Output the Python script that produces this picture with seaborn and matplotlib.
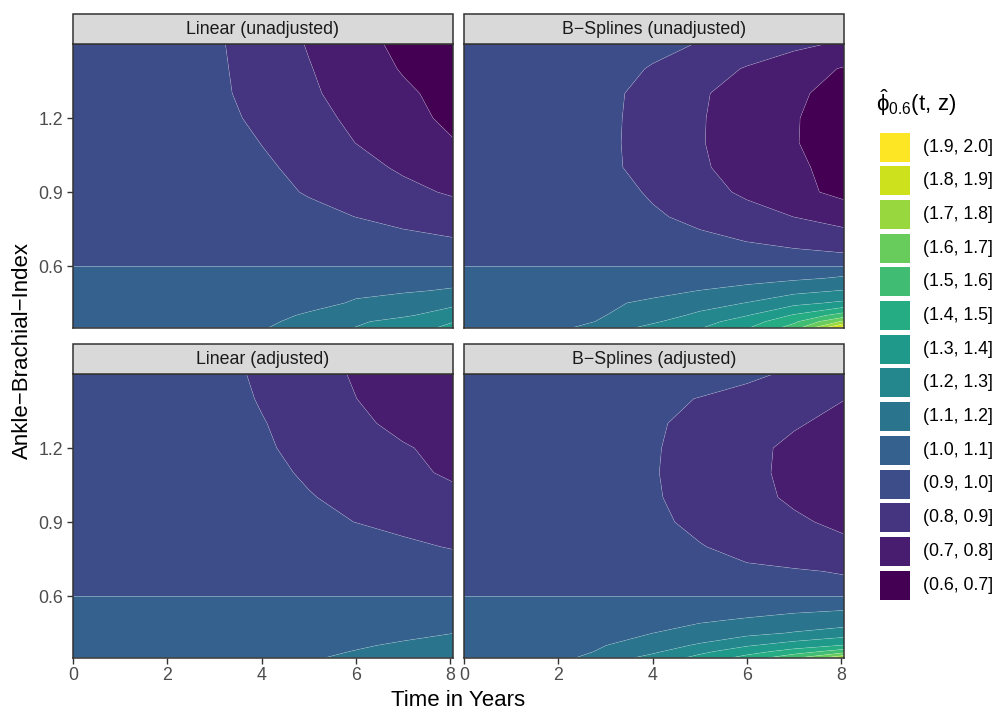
import numpy as np
import pandas as pd
import matplotlib
matplotlib.use("Agg")
import matplotlib.pyplot as plt
from matplotlib.patches import Rectangle
import seaborn as sns

# Follow-up time (years) and ankle-brachial index grid
t_years = [0, 1, 2, 3, 4, 5, 6, 7, 8.06]
abi_low = [0.35, 0.375, 0.40, 0.45, 0.50, 0.55, 0.60]
abi_high = [0.6, 0.7, 0.8, 0.9, 1.0, 1.1, 1.2, 1.3, 1.4, 1.5]

panel_titles = ["Linear (unadjusted)", "B\u2212Splines (unadjusted)",
                "Linear (adjusted)", "B\u2212Splines (adjusted)"]

# Estimated phi_0.6(t, z); rows follow the ABI grid, columns follow t_years
phi_lin_unadj_low = [
    [1.04, 1.04, 1.04, 1.04, 1.092, 1.147, 1.203, 1.261, 1.319],
    [1.04, 1.04, 1.04, 1.04, 1.079, 1.131, 1.183, 1.239, 1.297],
    [1.04, 1.04, 1.04, 1.04, 1.074, 1.110, 1.147, 1.184, 1.254],
    [1.04, 1.04, 1.04, 1.04, 1.042, 1.075, 1.108, 1.142, 1.175],
    [1.04, 1.04, 1.04, 1.04, 1.04, 1.06, 1.085, 1.09, 1.109],
    [1.04, 1.04, 1.04, 1.04, 1.04, 1.04, 1.05, 1.06, 1.07],
    [1.04, 1.04, 1.04, 1.04, 1.04, 1.04, 1.04, 1.045, 1.05],
]
phi_lin_unadj_high = [
    [0.96, 0.96, 0.96, 0.96, 0.96, 0.96, 0.96, 0.95, 0.94],
    [0.96, 0.96, 0.96, 0.96, 0.96, 0.96, 0.95, 0.927, 0.910],
    [0.96, 0.96, 0.96, 0.96, 0.950, 0.925, 0.899, 0.873, 0.847],
    [0.96, 0.96, 0.96, 0.96, 0.928, 0.893, 0.859, 0.824, 0.789],
    [0.96, 0.96, 0.96, 0.959, 0.916, 0.872, 0.829, 0.787, 0.749],
    [0.96, 0.96, 0.96, 0.948, 0.898, 0.848, 0.799, 0.752, 0.705],
    [0.96, 0.96, 0.96, 0.929, 0.880, 0.830, 0.781, 0.730, 0.680],
    [0.96, 0.96, 0.96, 0.920, 0.867, 0.814, 0.764, 0.716, 0.668],
    [0.96, 0.96, 0.96, 0.917, 0.861, 0.805, 0.749, 0.693, 0.637],
    [0.96, 0.96, 0.96, 0.914, 0.854, 0.794, 0.735, 0.676, 0.617],
]

phi_bs_unadj_low = [
    [1.04, 1.04, 1.077, 1.154, 1.227, 1.293, 1.39, 1.544, 1.95],
    [1.04, 1.04, 1.04, 1.117, 1.186, 1.26, 1.349, 1.479, 1.72],
    [1.04, 1.04, 1.04, 1.099, 1.157, 1.219, 1.296, 1.411, 1.55],
    [1.04, 1.04, 1.04, 1.082, 1.122, 1.162, 1.203, 1.272, 1.32],
    [1.04, 1.04, 1.04, 1.04, 1.067, 1.102, 1.137, 1.172, 1.205],
    [1.04, 1.04, 1.04, 1.04, 1.04, 1.04, 1.062, 1.086, 1.11],
    [1.04, 1.04, 1.04, 1.04, 1.04, 1.04, 1.04, 1.045, 1.05],
]
phi_bs_unadj_high = [
    [0.96, 0.96, 0.96, 0.96, 0.96, 0.96, 0.96, 0.96, 0.955],
    [0.96, 0.96, 0.96, 0.96, 0.946, 0.923, 0.899, 0.876, 0.852],
    [0.96, 0.96, 0.96, 0.951, 0.913, 0.875, 0.837, 0.799, 0.759],
    [0.96, 0.96, 0.96, 0.940, 0.888, 0.836, 0.783, 0.728, 0.673],
    [0.96, 0.96, 0.96, 0.920, 0.866, 0.812, 0.763, 0.716, 0.668],
    [0.96, 0.96, 0.96, 0.919, 0.862, 0.806, 0.755, 0.705, 0.656],
    [0.96, 0.96, 0.96, 0.920, 0.864, 0.807, 0.756, 0.706, 0.657],
    [0.96, 0.96, 0.96, 0.923, 0.867, 0.811, 0.762, 0.715, 0.668],
    [0.96, 0.96, 0.96, 0.941, 0.892, 0.843, 0.793, 0.743, 0.693],
    [0.96, 0.96, 0.96, 0.96, 0.931, 0.895, 0.859, 0.823, 0.786],
]

phi_lin_adj_low = [
    [1.04, 1.04, 1.04, 1.046, 1.07, 1.092, 1.115, 1.137, 1.16],
    [1.04, 1.04, 1.04, 1.04, 1.061, 1.082, 1.103, 1.124, 1.145],
    [1.04, 1.04, 1.04, 1.04, 1.052, 1.072, 1.091, 1.111, 1.13],
    [1.04, 1.04, 1.04, 1.04, 1.04, 1.05, 1.065, 1.08, 1.099],
    [1.04, 1.04, 1.04, 1.04, 1.04, 1.04, 1.05, 1.06, 1.07],
    [1.04, 1.04, 1.04, 1.04, 1.04, 1.04, 1.04, 1.045, 1.05],
    [1.04, 1.04, 1.04, 1.04, 1.04, 1.04, 1.04, 1.04, 1.04],
]
phi_lin_adj_high = [
    [0.96, 0.96, 0.96, 0.96, 0.96, 0.96, 0.96, 0.96, 0.96],
    [0.96, 0.96, 0.96, 0.96, 0.96, 0.96, 0.96, 0.95, 0.94],
    [0.96, 0.96, 0.96, 0.96, 0.96, 0.96, 0.94, 0.915, 0.895],
    [0.96, 0.96, 0.96, 0.96, 0.94, 0.920, 0.899, 0.879, 0.858],
    [0.96, 0.96, 0.96, 0.96, 0.933, 0.905, 0.877, 0.849, 0.821],
    [0.96, 0.96, 0.96, 0.956, 0.923, 0.889, 0.855, 0.821, 0.787],
    [0.96, 0.96, 0.96, 0.946, 0.911, 0.877, 0.842, 0.808, 0.773],
    [0.96, 0.96, 0.96, 0.948, 0.905, 0.862, 0.819, 0.776, 0.733],
    [0.96, 0.96, 0.96, 0.940, 0.893, 0.847, 0.801, 0.754, 0.707],
    [0.96, 0.96, 0.96, 0.932, 0.885, 0.838, 0.791, 0.744, 0.701],
]

phi_bs_adj_low = [
    [1.04, 1.04, 1.071, 1.149, 1.233, 1.329, 1.435, 1.58, 1.78],
    [1.04, 1.04, 1.051, 1.116, 1.181, 1.276, 1.358, 1.443, 1.555],
    [1.04, 1.04, 1.044, 1.099, 1.154, 1.213, 1.29, 1.346, 1.405],
    [1.04, 1.04, 1.04, 1.064, 1.0995, 1.135, 1.171, 1.207, 1.244],
    [1.04, 1.04, 1.04, 1.05, 1.071, 1.091, 1.111, 1.131, 1.151],
    [1.04, 1.04, 1.04, 1.04, 1.04, 1.05, 1.065, 1.08, 1.09],
    [1.04, 1.04, 1.04, 1.04, 1.04, 1.04, 1.04, 1.045, 1.05],
]
phi_bs_adj_high = [
    [0.96, 0.96, 0.96, 0.96, 0.96, 0.96, 0.96, 0.94, 0.93],
    [0.96, 0.96, 0.96, 0.96, 0.96, 0.93, 0.913, 0.907, 0.895],
    [0.96, 0.96, 0.96, 0.96, 0.931, 0.904, 0.876, 0.849, 0.821],
    [0.96, 0.96, 0.96, 0.950, 0.916, 0.882, 0.848, 0.814, 0.780],
    [0.96, 0.96, 0.96, 0.951, 0.909, 0.868, 0.827, 0.786, 0.745],
    [0.96, 0.96, 0.96, 0.949, 0.906, 0.864, 0.822, 0.779, 0.737],
    [0.96, 0.96, 0.96, 0.950, 0.908, 0.866, 0.824, 0.781, 0.739],
    [0.96, 0.96, 0.96, 0.945, 0.911, 0.877, 0.843, 0.809, 0.774],
    [0.96, 0.96, 0.96, 0.96, 0.928, 0.896, 0.864, 0.832, 0.802],
    [0.96, 0.96, 0.96, 0.96, 0.96, 0.96, 0.923, 0.882, 0.84],
]

level_breaks = [0.6, 0.7, 0.8, 0.9, 1.0, 1.1, 1.2, 1.3, 1.4, 1.5, 1.6, 1.7, 1.8, 1.9, 2.0]
level_labels = ["(0.6, 0.7]", "(0.7, 0.8]", "(0.8, 0.9]", "(0.9, 1.0]", "(1.0, 1.1]",
                "(1.1, 1.2]", "(1.2, 1.3]", "(1.3, 1.4]", "(1.4, 1.5]", "(1.5, 1.6]",
                "(1.6, 1.7]", "(1.7, 1.8]", "(1.8, 1.9]", "(1.9, 2.0]"]
x_ticks = [0, 2, 4, 6, 8]
y_ticks = [0.6, 0.9, 1.2]

panel_fields = {
    panel_titles[0]: (phi_lin_unadj_low, phi_lin_unadj_high),
    panel_titles[1]: (phi_bs_unadj_low, phi_bs_unadj_high),
    panel_titles[2]: (phi_lin_adj_low, phi_lin_adj_high),
    panel_titles[3]: (phi_bs_adj_low, phi_bs_adj_high),
}

records = []
for title, (low, high) in panel_fields.items():
    for region, zs, grid in (("low", abi_low, low), ("high", abi_high, high)):
        for zi, z in enumerate(zs):
            for ti, t in enumerate(t_years):
                records.append((title, region, t, z, grid[zi][ti]))
df = pd.DataFrame(records, columns=["model", "region", "time", "abi", "phi"])

level_colors = [matplotlib.colormaps["viridis"](v) for v in np.linspace(0, 1, len(level_labels))]

sns.set_style("white")
plt.rcParams["font.family"] = ["Liberation Sans", "DejaVu Sans"]
plt.rcParams["mathtext.fontset"] = "custom"
plt.rcParams["mathtext.rm"] = "Liberation Sans"
plt.rcParams["mathtext.it"] = "Liberation Sans:italic"


def draw_field(data, **kws):
    ax = plt.gca()
    for region, part in data.groupby("region"):
        grid = part.pivot(index="abi", columns="time", values="phi")
        T, Z = np.meshgrid(grid.columns.values, grid.index.values)
        ax.contourf(T, Z, grid.values, levels=level_breaks, colors=level_colors,
                    antialiased=True)
        ax.contour(T, Z, grid.values, levels=level_breaks, colors="white",
                   linewidths=0.4, alpha=0.3)
    ax.axhline(0.6, color="white", lw=0.7, alpha=0.35)


g = sns.FacetGrid(df, col="model", col_wrap=2, col_order=panel_titles,
                  sharex=True, sharey=True, height=3.5, aspect=1.35)
g.map_dataframe(draw_field)
g.set_titles("")
g.set_axis_labels("", "")

fig = g.figure
fig.set_size_inches(10, 7.12)
W, H = 1000.0, 712.0

# panel boxes in pixels: (left, top, right, bottom)
boxes = [(73, 44, 453, 327.7), (464, 44, 844, 327.7),
         (73, 374, 453, 657.7), (464, 374, 844, 657.7)]
strip_h = 30

for i, ax in enumerate(g.axes.flat):
    x0, y0, x1, y1 = boxes[i]
    ax.set_position([x0 / W, 1 - y1 / H, (x1 - x0) / W, (y1 - y0) / H])
    ax.set_xlim(0, 8.06)
    ax.set_ylim(0.35, 1.5)
    ax.set_xticks(x_ticks)
    ax.set_yticks(y_ticks)
    ax.set_xticklabels([str(v) for v in x_ticks])
    ax.set_yticklabels([f"{v:.1f}" for v in y_ticks])
    ax.set_title("")
    for sp in ax.spines.values():
        sp.set_visible(True)
        sp.set_color("#333333")
        sp.set_linewidth(1.1)
    ax.tick_params(axis="both", which="both", direction="out", length=4, width=1.0,
                   color="#333333", labelsize=12.8, labelcolor="#4D4D4D", pad=3)
    top_row = i < 2
    right_col = i % 2 == 1
    ax.tick_params(axis="x", bottom=not top_row, labelbottom=not top_row)
    ax.tick_params(axis="y", left=not right_col, labelleft=not right_col)
    # facet strip
    fig.patches.append(Rectangle((x0 / W, 1 - y0 / H), (x1 - x0) / W, strip_h / H,
                                 transform=fig.transFigure, facecolor="#D9D9D9",
                                 edgecolor="#333333", linewidth=1.1, zorder=3))
    fig.text((x0 + x1) / 2 / W, 1 - (y0 - strip_h / 2) / H, panel_titles[i],
             ha="center", va="center", fontsize=12.8, color="#1A1A1A", zorder=4)

fig.text(458 / W, 1 - 700 / H, "Time in Years", ha="center", va="center",
         fontsize=16, color="black")
fig.text(22 / W, 1 - 351 / H, "Ankle\u2212Brachial\u2212Index", ha="center", va="center",
         rotation=90, fontsize=16, color="black")

# legend
fig.text(876 / W, 1 - 103 / H, r"$\hat{\mathrm{\phi}}_{0.6}\mathrm{(t,}\,\mathrm{z)}$",
         ha="left", va="center", fontsize=16, color="black")
pitch = 33.7
for k, (lab, col) in enumerate(zip(level_labels[::-1], level_colors[::-1])):
    top = 132.5 + k * pitch
    fig.patches.append(Rectangle((880 / W, 1 - (top + 29) / H), 30 / W, 29 / H,
                                 transform=fig.transFigure, facecolor=col,
                                 edgecolor="none"))
    fig.text(923 / W, 1 - (top + 14.5) / H, lab, ha="left", va="center",
             fontsize=12.8, color="black")

fig.savefig("out.png", dpi=100, facecolor="white")
